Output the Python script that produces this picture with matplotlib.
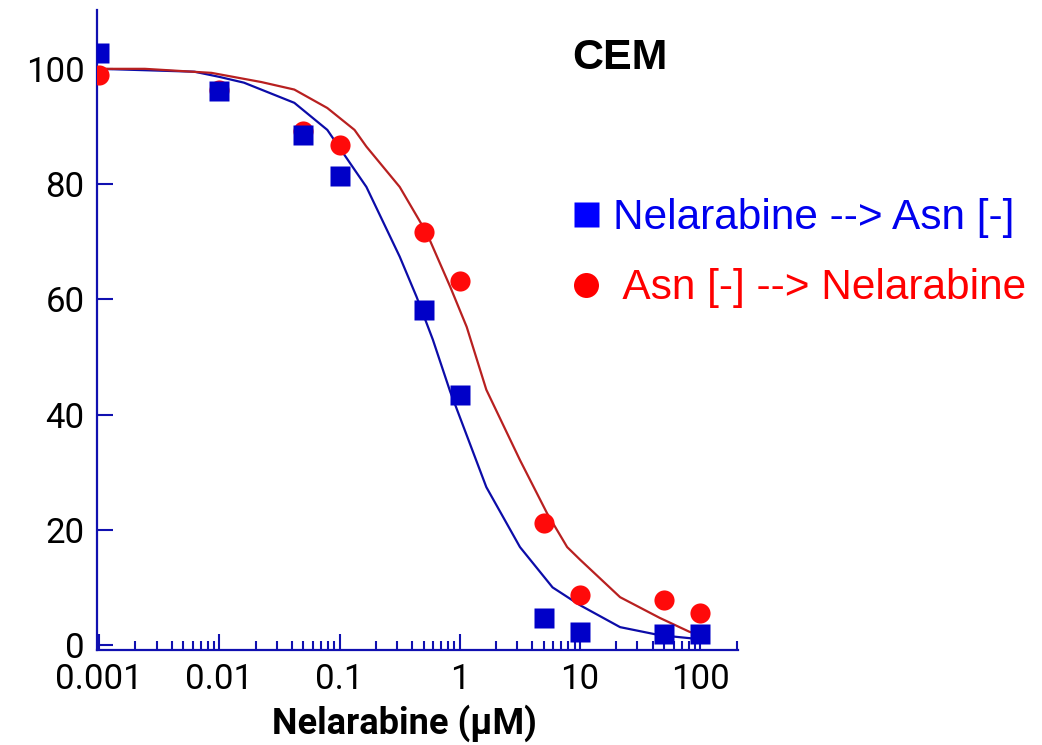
import numpy as np
import matplotlib
matplotlib.use("Agg")
import matplotlib.pyplot as plt
from matplotlib.lines import Line2D

# concentraciones (uM)
conc = [0.001, 0.01, 0.05, 0.1, 0.5, 1, 5, 10, 50, 100]

# % viabilidad
nel_asn = [102.8, 96.2, 88.5, 81.4, 58.2, 43.4, 4.7, 2.3, 1.9, 1.9]
asn_nel = [99.0, 96.4, 89.2, 86.8, 71.7, 63.2, 21.2, 8.7, 7.8, 5.6]

# curvas ajustadas (puntos leidos sobre la linea)
fit_blue_x = [0.001, 0.0062, 0.01, 0.016, 0.042, 0.079, 0.133, 0.167, 0.316, 0.437,
              0.596, 0.83, 1.66, 3.16, 5.9, 10, 21.5, 46, 100]
fit_blue_y = [100, 99.5, 98.6, 97.6, 94.1, 89.4, 82.5, 79.5, 67.4, 60.4,
              53.0, 44.0, 27.4, 17.0, 10.0, 6.9, 3.1, 1.7, 1.0]
fit_red_x = [0.001, 0.0024, 0.0086, 0.0224, 0.042, 0.079, 0.133, 0.167, 0.316, 0.53,
             0.83, 1.14, 1.66, 3.16, 5.3, 7.8, 10, 21.5, 46, 81, 90]
fit_red_y = [100, 100, 99.3, 97.7, 96.4, 93.2, 89.4, 86.5, 79.5, 71.5,
             62.2, 55.2, 44.3, 32.1, 22.9, 17.0, 14.8, 8.3, 4.7, 2.3, 2.0]

xticks = [0.001, 0.01, 0.1, 1, 10, 100]
xtick_labels = ['0.001', '0.01', '0.1', '1', '10', '100']
yticks = [0, 20, 40, 60, 80, 100]

axis_col = '#1010b0'

fig = plt.figure(figsize=(10.42, 7.45), dpi=100)
ax = fig.add_axes([0.0931, 0.1275, 0.615, 0.859])

ax.plot(fit_blue_x, fit_blue_y, color='#0c0ca8', lw=1.6, zorder=2)
ax.plot(fit_red_x, fit_red_y, color='#b82020', lw=1.6, zorder=2)
ax.plot(conc, asn_nel, 'o', color='#ff0a0a', ms=14.5, mec='none', zorder=3)
ax.plot(conc, nel_asn, 's', color='#0000c8', ms=14, mec='none', zorder=4)

ax.set_xscale('log')
ax.set_xlim(0.00096, 205)
ax.set_ylim(-0.87, 110.2)

for s in ['top', 'right']:
    ax.spines[s].set_visible(False)
for s in ['left', 'bottom']:
    ax.spines[s].set_color(axis_col)
    ax.spines[s].set_linewidth(1.6)

ax.set_xticks(xticks)
ax.set_xticklabels(xtick_labels)
ax.set_yticks(yticks)
ax.tick_params(axis='both', which='both', direction='in', colors=axis_col,
               labelcolor='black', width=1.5)
ax.tick_params(axis='x', which='major', length=11.5, pad=9)
ax.tick_params(axis='x', which='minor', length=6.5)
ax.tick_params(axis='y', which='major', length=11.5, pad=9)
for lab in ax.get_xticklabels() + ax.get_yticklabels():
    lab.set_family('Roboto')
    lab.set_fontsize(25)

ax.set_xlabel('Nelarabine (µM)', family='Roboto', fontweight='bold',
              fontsize=26)
ax.xaxis.set_label_coords((405 - 97) / (738 - 97), -0.085)

fig.text(572 / 1042, 1 - 58 / 745, 'CEM', family='Liberation Sans',
         fontweight='bold', fontsize=31, va='center', ha='left')

handles = [Line2D([], [], ls='none', marker='s', color='#0000ff', ms=18, mec='none'),
           Line2D([], [], ls='none', marker='o', color='#ff0000', ms=18, mec='none')]
leg = fig.legend(handles, ['Nelarabine --> Asn [-]', ' Asn [-] --> Nelarabine'],
                 loc='upper left', bbox_to_anchor=(571 / 1042, 1 - 198 / 745),
                 frameon=False, handlelength=0.7, handletextpad=0.3,
                 labelspacing=0.72, borderpad=0, borderaxespad=0,
                 prop={'family': 'Liberation Sans', 'size': 30.5})
leg.get_texts()[0].set_color('#0000ee')
leg.get_texts()[1].set_color('#ff0000')

fig.savefig('out.png', dpi=100)
